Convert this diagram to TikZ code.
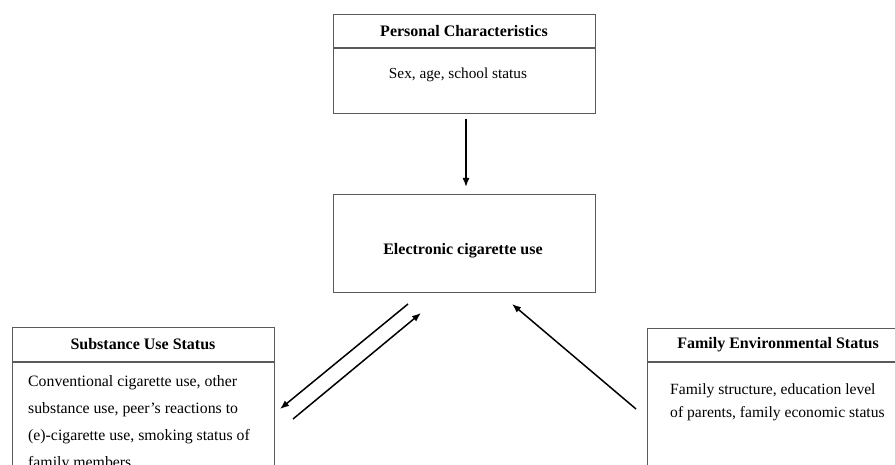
\documentclass[tikz,border=0pt]{standalone}
\usepackage{fontspec}
\setmainfont{Liberation Serif}
\usetikzlibrary{arrows.meta,positioning}
\definecolor{frame}{HTML}{5A5A5A}
\tikzset{head/.style={draw=frame,line width=1pt,minimum height=33pt,font=\fontsize{16}{18}\selectfont\bfseries,inner sep=0pt},
 panel/.style={draw=frame,line width=1pt,inner sep=0pt},
 txt/.style={align=left,inner sep=0pt,font=\fontsize{15.3}{18}\selectfont},
 arr/.style={-{Latex[length=9pt,width=7pt]},line width=1.5pt}}
\begin{document}
\begin{tikzpicture}[x=1pt,y=-1pt]
\useasboundingbox (0,0) rectangle (895,465);
\clip (0,0) rectangle (895,465);
% top
\node[head,minimum width=262pt] (pers) at (464,31.5) {Personal Characteristics};
\node[panel,minimum width=262pt,minimum height=65pt,below=0pt of pers] (persbody) {};
\node[txt,anchor=north] (perstxt) at (458,68) {Sex, age, school status};
% middle
\node[panel,minimum width=262pt,minimum height=98pt] (ecig) at (464,244) {};
\node[txt,font=\fontsize{16}{18}\selectfont\bfseries] (ecigtxt) at (463,251) {Electronic cigarette use};
% left
\node[head,minimum width=262pt] (subst) at (143,344.5) {Substance Use Status};
\node[panel,minimum width=262pt,minimum height=140pt,below=0pt of subst] (substbody) {};
\node[txt,anchor=north west,font=\fontsize{15.8}{27}\selectfont] (substtxt) at (28,375) {Conventional cigarette use, other\\substance use, peer’s reactions to\\(e)-cigarette use, smoking status of\\family members};
% right
\node[head,minimum width=262pt] (fam) at (778,345) {Family Environmental Status};
\node[panel,minimum width=262pt,minimum height=140pt,below=0pt of fam] (fambody) {};
\node[txt,anchor=north west,font=\fontsize{15.6}{23}\selectfont] (famtxt) at (670,383) {Family structure, education level\\of parents, family economic status};
% arrows
\coordinate (a1) at (466,119);
\coordinate (a2) at (466,187);
\coordinate (b1) at (408,304);
\coordinate (b2) at (280,409);
\coordinate (c1) at (293,419);
\coordinate (c2) at (421,313);
\coordinate (d1) at (636,409);
\coordinate (d2) at (512,304);
\draw[arr] (a1) -- (a2);
\draw[arr] (b1) -- (b2);
\draw[arr] (c1) -- (c2);
\draw[arr] (d1) -- (d2);
\end{tikzpicture}
\end{document}
